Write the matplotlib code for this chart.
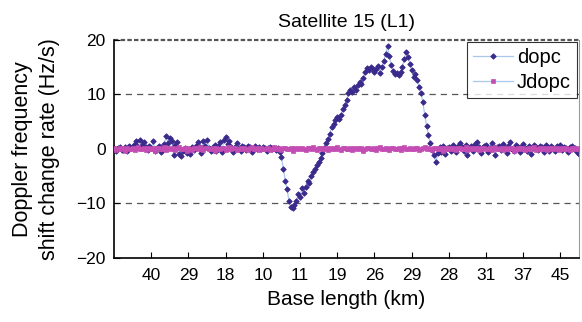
import numpy as np
import matplotlib.pyplot as plt

plt.rcParams['font.family'] = ['Liberation Sans', 'DejaVu Sans']

# tick labels on the x axis (base length, km)
tick_labels = ["40", "29", "18", "10", "11", "19", "26", "29", "28", "31", "37", "45"]
tick_pos = [20, 40, 60, 80, 100, 120, 140, 160, 180, 200, 220, 240]

# dopc series (one value per epoch)
dopc = [
    0.2, -0.3, 0.1, 0.4, -0.2, 0.0, 0.3, -0.4, 0.5, 0.1,
    0.6, 0.9, 1.4, 0.4, 1.7, 0.8, 1.2, 0.3, -0.2, 0.5,
    0.1, 1.4, -0.3, 0.2, 0.6, -0.6, 0.3, 0.9, 2.4, 1.1,
    2.0, 1.5, -1.1, 0.7, 1.3, -0.9, -1.3, -0.4, 0.2, -0.8,
    -0.5, -1.0, 0.3, -0.2, 0.5, 1.2, 0.4, -0.7, 1.4, 0.6,
    1.6, 0.2, -0.4, 0.3, 0.8, -0.3, 0.5, 1.3, -0.6, 1.7,
    2.1, 0.9, 1.5, 0.3, -0.5, 0.4, 1.0, 0.2, -0.3, 0.6,
    0.3, -0.2, 0.5, 0.4, -0.6, 0.2, 0.5, 0.0, 0.3, -0.1,
    0.4, 0.2, -0.3, 0.1, 0.3, 0.0, 0.2, -0.2, 0.1, -0.6,
    -1.5, -3.6, -5.8, -7.4, -9.5, -10.7, -10.9, -10.3, -9.6, -8.3,
    -8.8, -7.2, -8.0, -6.9, -5.8, -6.2, -4.9, -4.3, -3.6, -3.0,
    -2.4, -1.6, -0.8, 0.2, 1.1, 1.9, 2.8, 4.1, 4.6, 5.3,
    5.9, 5.5, 6.2, 7.4, 8.1, 9.0, 10.2, 10.8, 10.5, 11.3,
    10.9, 11.8, 12.3, 12.0, 13.1, 14.2, 14.8, 14.5, 15.1, 14.7,
    14.1, 14.6, 15.3, 14.0, 15.0, 16.2, 17.4, 18.9, 17.0, 15.4,
    14.3, 13.7, 14.0, 13.5, 14.2, 15.0, 16.5, 17.8, 16.9, 15.6,
    14.4, 13.2, 13.8, 12.6, 11.4, 10.2, 8.6, 6.3, 4.2, 2.5,
    1.0, -0.2, -1.2, -2.4, -0.8, 0.3, -0.5, 0.6, -1.0, 0.2,
    0.4, -0.3, 0.8, 0.2, -0.6, 0.5, 1.1, 0.3, -0.4, 0.7,
    -1.2, 0.2, 0.6, -0.3, 0.9, 1.3, 0.4, -0.7, 0.2, 0.5,
    0.8, -0.5, 0.1, 1.0, 0.4, -1.1, 0.3, 0.6, -0.2, 0.9,
    0.2, -0.8, 0.5, 1.2, 0.0, -0.4, 0.7, 0.3, -0.6, 0.4,
    0.9, 0.1, -0.3, 0.6, -0.9, 0.2, 0.8, 0.4, -0.2, 0.5,
    0.3, -0.5, 0.7, 0.1, -0.3, 0.6, 0.2, -0.4, 0.5, 0.3,
    0.7, -0.2, 0.4, 0.1, -0.6, 0.3, 0.5, -0.1, 0.2, -0.5, -0.9,
]

# Jdopc series, stays close to zero
jdopc = [
    0.1, -0.2, 0.0, 0.2, -0.1, 0.1, -0.3, 0.2, 0.0, -0.1,
    0.2, -0.2, 0.1, 0.3, -0.1, 0.0, 0.2, -0.2, 0.1, -0.1,
    0.0, 0.2, -0.3, 0.1, 0.2, -0.1, 0.0, 0.3, -0.2, 0.1,
    -0.1, 0.2, 0.0, -0.2, 0.1, 0.3, -0.1, 0.0, 0.2, -0.3,
    0.1, 0.0, -0.2, 0.2, 0.1, -0.1, 0.3, 0.0, -0.2, 0.1,
    0.2, -0.1, 0.0, 0.1, -0.3, 0.2, 0.0, -0.1, 0.2, 0.1,
    -0.2, 0.0, 0.3, -0.1, 0.1, 0.2, -0.2, 0.0, 0.1, -0.1,
    0.2, 0.0, -0.2, 0.1, 0.3, -0.1, 0.0, 0.2, -0.2, 0.1,
    0.0, -0.1, 0.2, 0.1, -0.2, 0.0, 0.3, -0.1, 0.1, 0.0,
    -0.2, 0.1, 0.2, -0.1, 0.0, 0.2, -0.3, 0.1, 0.0, 0.2,
    -0.1, 0.1, 0.0, -0.2, 0.2, 0.1, -0.1, 0.3, 0.0, -0.2,
    0.1, 0.2, -0.1, 0.0, 0.1, -0.2, 0.2, 0.0, 0.1, -0.1,
    0.3, 0.0, -0.2, 0.1, 0.2, -0.1, 0.0, 0.2, -0.2, 0.1,
    0.0, 0.2, -0.1, 0.1, -0.3, 0.0, 0.2, 0.1, -0.1, 0.0,
    0.2, -0.2, 0.1, 0.3, 0.0, -0.1, 0.2, 0.0, -0.2, 0.1,
    0.1, -0.1, 0.0, 0.2, -0.2, 0.1, 0.3, -0.1, 0.0, 0.2,
    -0.1, 0.0, 0.2, 0.1, -0.2, 0.0, 0.1, 0.3, -0.1, 0.2,
    0.0, -0.2, 0.1, 0.2, -0.1, 0.0, 0.2, -0.3, 0.1, 0.0,
    0.2, -0.1, 0.1, 0.0, -0.2, 0.2, 0.1, -0.1, 0.0, 0.3,
    -0.2, 0.1, 0.0, 0.2, -0.1, 0.1, -0.2, 0.0, 0.2, 0.1,
    0.0, -0.1, 0.2, -0.2, 0.1, 0.3, 0.0, -0.1, 0.1, -0.2,
    0.2, 0.0, -0.1, 0.1, 0.2, -0.3, 0.0, 0.1, -0.1, 0.2,
    0.1, -0.2, 0.0, 0.2, -0.1, 0.1, 0.3, -0.2, 0.0, 0.1,
    -0.1, 0.2, 0.0, -0.2, 0.1, 0.0, 0.2, -0.1, 0.1, -0.2,
    0.0, 0.2, -0.1, 0.1, 0.0, -0.2, 0.2, 0.1, -0.1, 0.0, 0.1,
]

line_color = "#a9c9ea"
dopc_color = "#3a2a8c"
jdopc_color = "#c44db4"

x1 = np.arange(len(dopc))
x2 = np.arange(len(jdopc))

fig = plt.figure(figsize=(5.82, 3.22), dpi=100)
ax = fig.add_axes([0.196, 0.199, 0.799, 0.677])

for y in [-10, 0, 10]:
    ax.axhline(y, color="#555555", lw=0.9, ls=(0, (5, 4)), zorder=0)
ax.axhline(20, color="#555555", lw=1.6, ls=(0, (2, 1)), zorder=0, clip_on=False)

ax.plot(x1, dopc, color=line_color, lw=0.9, marker="D", ms=2.8, mew=0.6,
        mfc=dopc_color, mec=dopc_color, label="dopc", zorder=2)
ax.plot(x2, jdopc, color=line_color, lw=0.9, marker="s", ms=3.0, mew=0.5,
        mfc=jdopc_color, mec=jdopc_color, label="Jdopc", zorder=3)

ax.set_xlim(0, 250)
ax.set_ylim(-20, 20)
ax.set_yticks([-20, -10, 0, 10, 20])
ax.set_xticks(tick_pos)
ax.set_xticklabels(tick_labels)
ax.tick_params(direction="in", labelsize=12.5, length=4, width=0.8)
ax.tick_params(axis="x", pad=7)
ax.tick_params(axis="y", pad=6)

ax.spines["top"].set_visible(False)
ax.spines["right"].set_color("#999999")
ax.spines["left"].set_linewidth(1.2)
ax.spines["bottom"].set_linewidth(1.2)

ax.set_title("Satellite 15 (L1)", fontsize=14, pad=9)
ax.set_xlabel("Base length (km)", fontsize=15, labelpad=5)
ax.set_ylabel("Doppler frequency\nshift change rate (Hz/s)", fontsize=15.5,
              linespacing=1.35, labelpad=12)

leg = ax.legend(loc="upper right", fancybox=False, edgecolor="black",
                fontsize=14.5, borderaxespad=0.1, handlelength=2.0,
                handletextpad=0.2, borderpad=0.3, labelspacing=0.3)
leg.get_frame().set_linewidth(0.8)

fig.savefig("out.png", dpi=100)
